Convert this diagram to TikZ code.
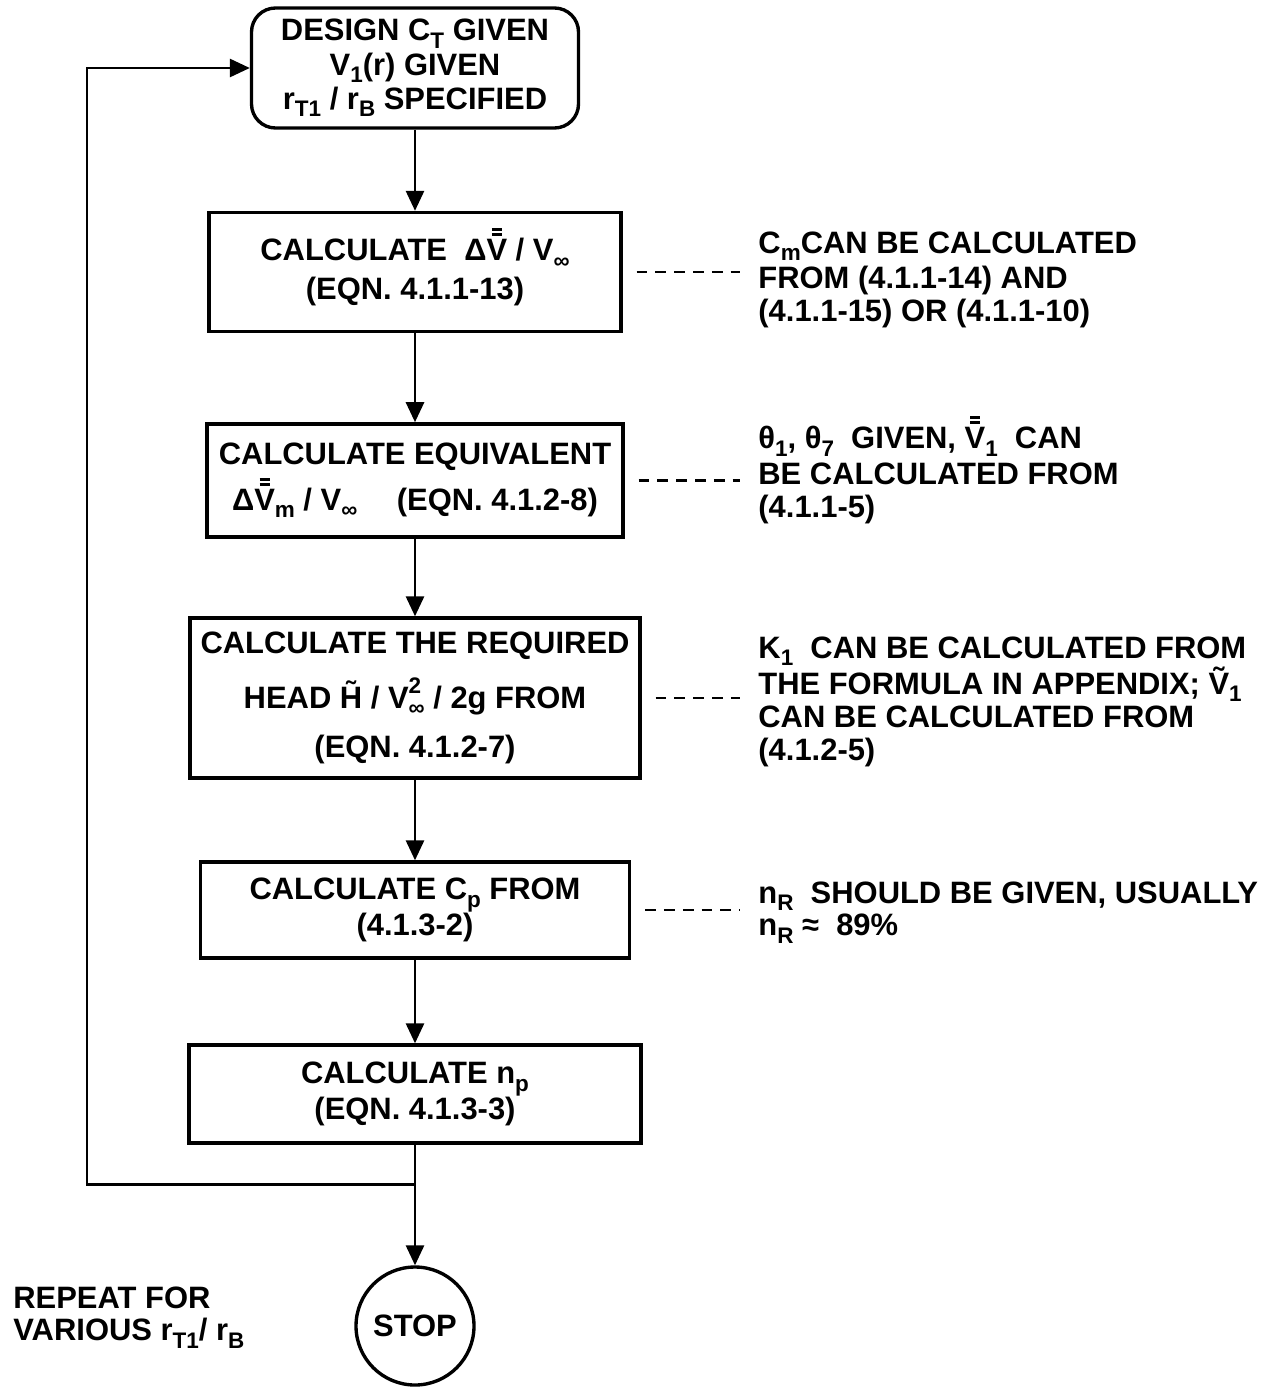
\documentclass[tikz,border=0pt]{standalone}
\usepackage{fontspec}
\setmainfont{Liberation Sans}
\usetikzlibrary{arrows.meta,positioning,calc}
\newcommand{\lowsub}[1]{\raisebox{-0.45ex}{\fontsize{16}{16}\selectfont #1}}
\newcommand{\highsup}[1]{\raisebox{0.9ex}{\fontsize{16}{16}\selectfont #1}}
\newcommand{\dblbar}[1]{\leavevmode\ooalign{#1\cr\hidewidth\raisebox{0.80em}{\rule{0.32em}{0.09em}}\hidewidth\cr\hidewidth\raisebox{0.96em}{\rule{0.32em}{0.09em}}\hidewidth\cr}}

\begin{document}
\begin{tikzpicture}[>={Triangle[length=0.5cm,width=0.45cm]}, line width=2pt,
    font=\bfseries\fontsize{22}{23.4}\selectfont,
    box/.style={draw, line width=2.4pt, align=center, inner sep=0pt},
    note/.style={anchor=north west, align=left, inner sep=0pt},
    notelink/.style={line width=2pt, dash pattern=on 0.27cm off 0.2cm,
                     shorten <=0.35cm, shorten >=0.42cm}]

  \useasboundingbox (0,0) rectangle (31.775,-34.7);

  \node[box, rounded corners=0.6cm, minimum width=8.175cm, minimum height=3cm] (design) at (10.375,-1.7)
    {DESIGN C\lowsub{T} GIVEN\\[1pt]V\lowsub{1}(r) GIVEN\\[1pt]r\lowsub{T1} / r\lowsub{B} SPECIFIED};
  \node[box, minimum width=10.3cm, minimum height=2.975cm] (deltav) at (10.375,-6.8)
    {CALCULATE \ Δ\dblbar{V} / V\lowsub{∞}\\[4pt](EQN. 4.1.1-13)};
  \node[box, minimum width=10.4cm, minimum height=2.825cm] (equiv) at (10.375,-12.01)
    {CALCULATE EQUIVALENT\\[9pt]Δ\dblbar{V}\lowsub{m} / V\lowsub{∞} \quad (EQN. 4.1.2-8)};
  \node[box, minimum width=11.25cm, minimum height=4cm] (head) at (10.375,-17.45)
    {CALCULATE THE REQUIRED\\[12pt]HEAD \~{H} / V\rlap{\highsup{2}}\lowsub{∞} / 2g FROM\\[12pt](EQN. 4.1.2-7)};
  \node[box, minimum width=10.725cm, minimum height=2.4cm] (cp) at (10.375,-22.75)
    {CALCULATE C\lowsub{p} FROM\\(4.1.3-2)};
  \node[box, minimum width=11.3cm, minimum height=2.45cm] (np) at (10.375,-27.35)
    {CALCULATE n\lowsub{p}\\(EQN. 4.1.3-3)};
  \node[draw, circle, line width=2.4pt, minimum size=2.95cm, inner sep=0pt] (stop) at (10.375,-33.15) {STOP};

  \coordinate (split) at ($(np.south)+(0,-1)$);
  \coordinate (back) at (2.175,0);

  \draw[->] (design) -- (deltav);
  \draw[->] (deltav) -- (equiv);
  \draw[->] (equiv) -- (head);
  \draw[->] (head) -- (cp);
  \draw[->] (cp) -- (np);
  \draw (np) -- (split);
  \draw[->] (split) -- (stop);
  \draw[->] (split) -- (split -| back) |- (design.west);

  \node[note] (cmnote) at (18.925,-5.75)
    {C\lowsub{m}CAN BE CALCULATED\\[2pt]FROM (4.1.1-14) AND\\(4.1.1-15) OR (4.1.1-10)};
  \node[note] (thetanote) at (18.925,-10.625)
    {θ\lowsub{1}, θ\lowsub{7} \ GIVEN, \dblbar{V}\lowsub{1} \ CAN\\[2pt]BE CALCULATED FROM\\(4.1.1-5)};
  \node[note] (knote) at (18.925,-15.875)
    {K\lowsub{1} \ CAN BE CALCULATED FROM\\THE FORMULA IN APPENDIX; \~{V}\lowsub{1}\\CAN BE CALCULATED FROM\\(4.1.2-5)};
  \node[note] (etanote) at (18.925,-22.0)
    {n\lowsub{R} \ SHOULD BE GIVEN, USUALLY\\n\lowsub{R} ≈ \ 89\%};
  \node[note] (repeat) at (0.3,-32.125)
    {REPEAT FOR\\VARIOUS r\lowsub{T1}/ r\lowsub{B}};

  \draw[notelink] (deltav.east) -- (deltav.east -| cmnote.west);
  \draw[notelink] (equiv.east) -- (equiv.east -| thetanote.west);
  \draw[notelink] (head.east) -- (head.east -| knote.west);
  \draw[notelink] (cp.east) -- (cp.east -| etanote.west);
\end{tikzpicture}
\end{document}
